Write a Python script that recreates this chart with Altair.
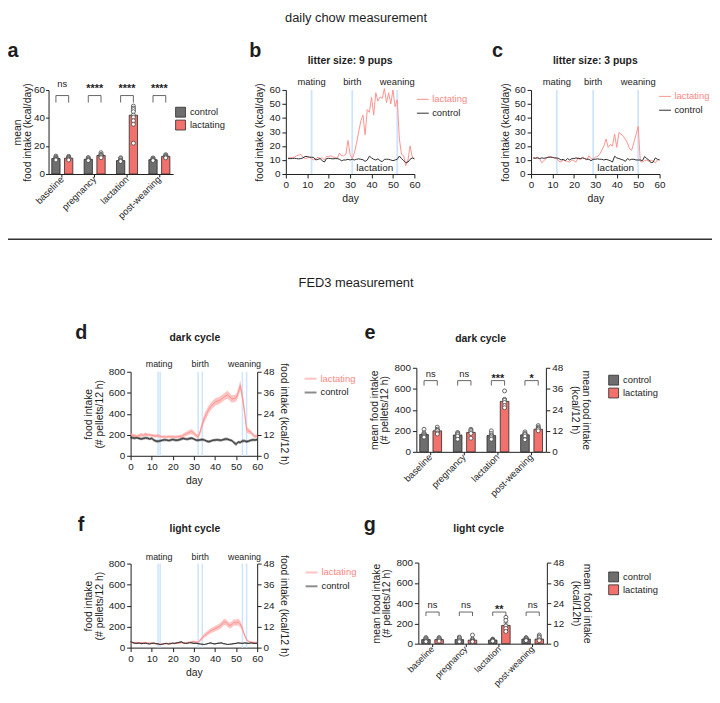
import altair as alt
import pandas as pd

FONT = "Liberation Sans"
INK = "#1d1d1d"
CTRL_BAR = "#6e6e6e"
LACT_BAR = "#f3716c"
LACT_LINE = "#ff9390"
CTRL_LINE = "#303030"
LACT_LABEL = "#ff8683"
EVENT_BLUE = "#cde4fb"
BAR_EDGE = "#2a2a2a"

W, H = 712, 684

phases = ["baseline", "pregnancy", "lactation", "post-weaning"]
bar_groups = ["control", "lactating"]
line_groups = ["lactating", "control"]
event_names = ["mating", "birth", "weaning"]

# ---------------- panel a (daily chow, mean per phase) ----------------
a_ctrl_mean = [11.0, 10.5, 9.6, 10.2]
a_lact_mean = [11.3, 13.2, 42.0, 12.6]
a_ctrl_sem = [0.5, 0.4, 0.4, 0.4]
a_lact_sem = [0.5, 0.6, 2.8, 0.5]
a_ctrl_pts = [[12.8, 12.0, 11.4, 11.0, 10.5, 10.0], [11.8, 11.0, 10.6, 10.0, 9.6],
              [11.6, 11.0, 10.0, 9.5, 9.0], [11.5, 11.0, 10.4, 10.0, 9.6]]
a_lact_pts = [[12.6, 12.0, 11.5, 11.0, 10.5, 10.0], [15.2, 14.0, 13.5, 13.0, 12.2, 11.6],
              [48.5, 47.0, 46.0, 44.5, 42.0, 40.5, 38.0, 35.5, 22.0], [13.8, 13.2, 12.6, 12.0, 11.5]]
a_sig = ["ns", "****", "****", "****"]

# ---------------- panels b, c (daily chow, per day) ----------------
daily_days = list(range(1, 61))
b_lact = [11.5, 11.5, 11.8, 12, 13, 13.5, 14, 12, 11, 11.5, 12, 11, 10, 11, 12, 11, 11.5, 10, 12.5, 12.5,
          13, 12, 12, 11, 15, 13, 13, 14, 24, 14, 11, 15, 22, 30, 38, 42, 28, 46, 44, 55,
          42, 58, 52, 55, 54, 61, 51, 58, 50, 60, 48, 53, 25, 14, 13, 6, 10, 20, 12, 11]
b_ctrl = [11, 11, 11, 11.2, 11, 10.8, 11, 11.5, 12.5, 12.5, 12, 12, 11.8, 10, 10.5, 11, 9.5, 8.5, 11, 11.2,
          11, 10.8, 11, 11, 10.5, 9.5, 10, 10, 10.5, 10, 10.5, 10, 10.5, 10.8, 10.5, 10.2, 9, 10, 12.7, 11.5,
          10.5, 10, 10.8, 9.5, 8.8, 10.5, 10.5, 10.5, 10, 9.5, 10, 10.5, 12.8, 11, 9.5, 8.2, 8.5, 10.5, 11.5, 10.8]
b_events = [12, 31, 52]
c_lact = [11.5, 11.5, 12, 11, 8, 9.5, 11, 12, 12.5, 12, 11.5, 11, 9, 8.5, 10, 9.5, 9, 8.5, 10, 9.5,
          8.5, 12, 10, 12, 11, 10, 13, 11, 10.5, 12, 12.5, 14, 17, 20, 25, 19, 21, 20, 28.5, 19,
          29.5, 28.5, 27, 25, 22, 18, 17, 22.5, 28, 34, 9, 8.5, 9.5, 10, 9, 10, 9, 8, 10, 10.5]
c_ctrl = [11.5, 11.2, 11.5, 11, 11.5, 11.2, 11.5, 12, 12, 11.8, 11.5, 11.5, 11, 10, 10.5, 9.5, 11, 10, 11, 11,
          11.5, 11, 11, 11.5, 11, 10.5, 10.5, 9.5, 10.5, 10.5, 10.8, 10.5, 10.5, 10, 10.5, 10, 9.5, 8.5, 12.7, 11.5,
          11, 10.5, 10, 9, 11, 10, 10.5, 10.5, 10, 10, 10, 9.5, 12.5, 11, 10, 8, 8.5, 11.5, 10.5, 10]
c_events = [12, 29, 50]

# ---------------- panels d, f (FED3, per day, mean +/- SEM) ----------------
fed_days = list(range(0, 61))
fed_event_days = [13, 14, 32, 34, 53, 55]
fed_label_days = [13.5, 33, 54]
d_lact_mean = [205, 195, 190, 185, 192, 200, 195, 205, 200, 198, 195, 190, 188, 192, 185, 180, 182, 178, 183, 180,
               182, 178, 180, 182, 185, 195, 205, 215, 225, 230, 215, 195, 180, 230, 300, 360, 400, 440, 470, 490,
               510, 520, 525, 540, 555, 570, 580, 560, 540, 545, 550, 600, 670, 560, 420, 250, 235, 225, 200, 185, 190]
d_lact_sem = [18, 16, 15, 15, 16, 17, 15, 16, 15, 14, 15, 15, 14, 15, 14, 13, 14, 14, 15, 14,
              15, 14, 15, 15, 16, 18, 20, 22, 22, 24, 20, 18, 20, 28, 35, 40, 40, 38, 36, 35,
              35, 34, 34, 33, 33, 35, 38, 36, 35, 34, 35, 40, 48, 50, 45, 30, 25, 20, 18, 16, 16]
d_ctrl_mean = [175, 170, 168, 172, 165, 160, 165, 170, 168, 160, 165, 150, 140, 138, 142, 148, 152, 150, 145, 150,
               155, 150, 148, 152, 160, 165, 160, 158, 165, 168, 160, 150, 148, 152, 155, 150, 140, 135, 140, 148,
               150, 152, 150, 148, 155, 160, 158, 150, 145, 125, 110, 130, 128, 140, 142, 135, 140, 148, 152, 150, 155]
d_ctrl_sem = [14, 13, 13, 12, 13, 13, 12, 13, 13, 12, 13, 14, 13, 12, 13, 12, 13, 12, 12, 13,
              12, 13, 12, 13, 14, 13, 12, 13, 14, 13, 12, 13, 12, 13, 13, 12, 13, 14, 13, 12,
              13, 12, 13, 12, 13, 14, 13, 12, 13, 15, 16, 14, 13, 14, 13, 12, 13, 12, 13, 12, 13]
f_lact_mean = [50, 48, 45, 50, 42, 48, 45, 50, 45, 42, 45, 40, 38, 35, 32, 35, 38, 36, 40, 42,
               38, 40, 45, 42, 48, 45, 42, 48, 50, 55, 58, 52, 50, 70, 95, 115, 130, 145, 160, 170,
               180, 190, 200, 215, 240, 245, 225, 210, 220, 240, 235, 245, 225, 180, 120, 75, 58, 52, 50, 48, 50]
f_lact_sem = [8, 8, 7, 8, 7, 7, 8, 7, 7, 7, 7, 7, 6, 6, 6, 6, 7, 6, 7, 7,
              6, 7, 7, 7, 8, 7, 7, 8, 9, 10, 10, 9, 10, 14, 18, 20, 22, 22, 24, 25,
              25, 26, 27, 28, 30, 30, 28, 27, 28, 30, 30, 32, 30, 25, 18, 12, 9, 8, 8, 8, 8]
f_ctrl_mean = [55, 48, 42, 40, 45, 38, 40, 42, 38, 35, 40, 42, 38, 35, 30, 32, 38, 40, 35, 38,
               42, 40, 45, 50, 55, 45, 40, 42, 48, 45, 40, 42, 38, 35, 32, 30, 35, 40, 45, 38,
               35, 40, 42, 45, 38, 35, 30, 32, 35, 38, 40, 45, 42, 40, 45, 42, 40, 45, 42, 40, 42]
f_ctrl_sem = [8, 7, 6, 6, 6, 5, 6, 6, 5, 5, 6, 6, 5, 5, 5, 5, 5, 6, 5, 5,
              6, 6, 6, 7, 7, 6, 6, 6, 6, 6, 6, 6, 5, 5, 5, 5, 5, 6, 6, 5,
              5, 6, 6, 6, 5, 5, 5, 5, 5, 6, 6, 6, 6, 6, 6, 6, 6, 6, 6, 6, 6]
kcal_ticks = [0, 12, 24, 36, 48]
pellet_ticks = [0, 200, 400, 600, 800]

# ---------------- panels e, g (FED3, mean per phase) ----------------
e_ctrl_mean = [165, 160, 155, 162]
e_lact_mean = [200, 185, 480, 215]
e_ctrl_sem = [12, 12, 14, 12]
e_lact_sem = [10, 12, 25, 10]
e_ctrl_pts = [[215, 180, 170, 160, 150, 140], [185, 175, 165, 150, 120], [200, 175, 160, 150, 135, 120],
              [190, 175, 165, 150, 115]]
e_lact_pts = [[235, 215, 205, 200, 180, 170], [215, 205, 190, 175, 130], [580, 500, 490, 470, 440, 420],
              [250, 235, 225, 215, 200]]
e_sig = ["ns", "ns", "***", "*"]
g_ctrl_mean = [40, 40, 35, 45]
g_lact_mean = [40, 35, 180, 45]
g_ctrl_sem = [6, 6, 5, 6]
g_lact_sem = [6, 8, 25, 8]
g_ctrl_pts = [[60, 55, 45, 35, 25, 20], [65, 55, 40, 30, 20], [45, 40, 35, 30, 25], [60, 55, 50, 40, 35, 30]]
g_lact_pts = [[60, 55, 45, 35, 25], [85, 45, 35, 25, 20], [260, 230, 175, 150, 120], [85, 70, 60, 40, 30]]
g_sig = ["ns", "ns", "**", "ns"]


def label_color_expr():
    return {"expr": f"datum.label === 'lactating' ? '{LACT_LABEL}' : '{INK}'"}


def line_legend(x, y, stroke_w, row_pad):
    return alt.Legend(title=None, orient="none", legendX=x, legendY=y, symbolType="stroke",
                      symbolSize=144, symbolStrokeWidth=stroke_w, labelFont=FONT, labelFontSize=9.5,
                      labelColor=label_color_expr(), rowPadding=row_pad, labelOffset=3)


def kcal_layer(yr, x1, title, pad):
    return alt.Chart(pd.DataFrame({"kcal": kcal_ticks})).mark_point(opacity=0).encode(
        y=alt.Y("kcal:Q", scale=alt.Scale(domain=[0, 48], nice=False, range=yr),
                axis=alt.Axis(orient="right", offset=x1 - W, values=kcal_ticks, title=title,
                              titleLineHeight=11, titlePadding=pad)))


def bar_panel(cm, lm, cs, ls, cp, lp, sig, ymax, yticks, ytitle, xr, yr,
              br_top, br_leg, txt_y, leg_x, leg_y, kcal_title=None, title_pad=4,
              y_tick=4, y_lpad=2, x_font=9.5, title_lh=11):
    bars = pd.DataFrame({"phase": phases + phases,
                         "group": ["control"] * 4 + ["lactating"] * 4,
                         "mean": cm + lm, "sem": cs + ls})
    bars["lo"] = bars["mean"] - bars["sem"]
    bars["hi"] = bars["mean"] + bars["sem"]
    pts = pd.DataFrame([{"phase": p, "group": g, "value": v}
                        for g, plist in (("control", cp), ("lactating", lp))
                        for p, vals in zip(phases, plist) for v in vals])
    br = pd.DataFrame([{"phase": p, "group": g, "y": yv, "k": k}
                       for p in phases
                       for k, (g, yv) in enumerate([("control", br_leg), ("control", br_top),
                                                    ("lactating", br_top), ("lactating", br_leg)])])
    sigdf = pd.DataFrame({"phase": phases, "label": sig, "y": [txt_y] * 4})
    ns_df = sigdf[sigdf["label"] == "ns"]
    st_df = sigdf[sigdf["label"] != "ns"]

    xaxis = alt.Axis(title=None, orient="bottom", offset=yr[0] - H, labelAngle=-45, labelAlign="right",
                     labelBaseline="middle", labelPadding=0.5, tickSize=3, labelFontSize=x_font)
    xscale = alt.Scale(paddingInner=0.35, paddingOuter=0.1, range=xr)

    def X():
        return alt.X("phase:N", sort=phases, scale=xscale, axis=xaxis)

    def XO():
        return alt.XOffset("group:N", sort=bar_groups, scale=alt.Scale(paddingInner=0.35, paddingOuter=0))

    yscale = alt.Scale(domain=[0, ymax], nice=False, range=yr)
    yaxis = alt.Axis(orient="left", offset=-xr[0], values=yticks, title=ytitle, titleLineHeight=title_lh,
                     titlePadding=title_pad, tickSize=y_tick, labelPadding=y_lpad)

    def Y(f):
        return alt.Y(f, type="quantitative", scale=yscale, axis=yaxis)

    legend = alt.Legend(title=None, orient="none", legendX=leg_x, legendY=leg_y,
                        symbolType="square", symbolSize=100, symbolStrokeColor=BAR_EDGE,
                        symbolStrokeWidth=0.8, symbolOpacity=1, labelFont=FONT,
                        labelFontSize=9.5, labelColor=INK, rowPadding=-4, labelOffset=4)
    bar = alt.Chart(bars).mark_bar(stroke=BAR_EDGE, strokeWidth=0.8).encode(
        x=X(), xOffset=XO(), y=Y("mean"),
        color=alt.Color("group:N", scale=alt.Scale(domain=bar_groups, range=[CTRL_BAR, LACT_BAR]),
                        legend=legend))
    err = alt.Chart(bars).mark_rule(color=INK, strokeWidth=0.8).encode(
        x=X(), xOffset=XO(), y=Y("lo"), y2="hi")
    cap = alt.Chart(bars).mark_tick(color=INK, thickness=0.8, size=5).encode(
        x=X(), xOffset=XO(), y=Y("hi"))
    dots = alt.Chart(pts).mark_circle(fill="white", stroke="#444444", strokeWidth=0.8, size=16, opacity=1).encode(
        x=X(), xOffset=XO(), y=Y("value"))
    brk = alt.Chart(br).mark_line(color="#555555", strokeWidth=0.9).encode(
        x=X(), xOffset=XO(), y=Y("y"), detail="phase:N", order="k:Q")
    layers = [bar, err, cap, dots, brk]
    if len(ns_df):
        layers.append(alt.Chart(ns_df).mark_text(font=FONT, fontSize=9.5, baseline="bottom", color=INK).encode(
            x=X(), y=Y("y"), text="label:N"))
    if len(st_df):
        layers.append(alt.Chart(st_df).mark_text(font=FONT, fontSize=11, fontWeight="bold", baseline="bottom",
                                                 color=INK, dy=5).encode(x=X(), y=Y("y"), text="label:N"))
    inner = alt.layer(*layers)
    if kcal_title is None:
        return inner
    return alt.layer(inner, kcal_layer(yr, xr[1], kcal_title, 7)).resolve_scale(y="independent")


def daily_panel(lact, ctrl, ev_days, xr, yr, leg_x, leg_y):
    df = pd.DataFrame({"day": daily_days + daily_days, "kcal": lact + ctrl,
                       "group": ["lactating"] * len(lact) + ["control"] * len(ctrl)})
    ev = pd.DataFrame({"day": ev_days, "name": event_names, "lo": 0, "hi": 60})
    mid = pd.DataFrame({"day": [(ev_days[1] + ev_days[2]) / 2], "y": [4.2], "t": ["lactation"]})
    xs = alt.Scale(domain=[0, 60], nice=False, range=xr)
    xa = alt.Axis(orient="bottom", offset=yr[0] - H, values=list(range(0, 61, 10)), title="day")
    ys = alt.Scale(domain=[0, 60], nice=False, range=yr)
    ya = alt.Axis(orient="left", offset=-xr[0], values=list(range(0, 61, 10)), title="food intake (kcal/day)")

    def X(f):
        return alt.X(f, type="quantitative", scale=xs, axis=xa)

    def Y(f):
        return alt.Y(f, type="quantitative", scale=ys, axis=ya)

    rules = alt.Chart(ev).mark_rule(color=EVENT_BLUE, strokeWidth=1.8).encode(x=X("day"), y=Y("lo"), y2="hi")
    names = alt.Chart(ev).mark_text(font=FONT, fontSize=9.5, baseline="middle", color=INK, dy=-8).encode(
        x=X("day"), y=Y("hi"), text="name:N")
    lines = alt.Chart(df).mark_line(strokeWidth=1).encode(
        x=X("day"), y=Y("kcal"),
        color=alt.Color("group:N", scale=alt.Scale(domain=line_groups, range=[LACT_LINE, CTRL_LINE]),
                        legend=line_legend(leg_x, leg_y, 1, 3)))
    lab = alt.Chart(mid).mark_text(font=FONT, fontSize=10, color=INK, baseline="middle").encode(
        x=X("day"), y=Y("y"), text="t:N")
    return alt.layer(rules, lines, names, lab)


def fed_panel(lm, ls, cm, cs, ytitle, kcal_title, xr, yr, label_dy, leg_x, leg_y):
    n = len(fed_days)
    df = pd.DataFrame({"day": fed_days + fed_days, "mean": lm + cm, "sem": ls + cs,
                       "group": ["lactating"] * n + ["control"] * n})
    df["lo"] = df["mean"] - df["sem"]
    df["hi"] = df["mean"] + df["sem"]
    ev = pd.DataFrame({"day": fed_event_days, "lo": 0, "hi": 800})
    evl = pd.DataFrame({"day": fed_label_days, "name": event_names, "top": 800})
    xs = alt.Scale(domain=[0, 60], nice=False, range=xr)
    xa = alt.Axis(orient="bottom", offset=yr[0] - H, values=list(range(0, 61, 10)), title="day")
    ys = alt.Scale(domain=[0, 800], nice=False, range=yr)
    ya = alt.Axis(orient="left", offset=-xr[0], values=pellet_ticks, title=ytitle, titleLineHeight=11)

    def X(f):
        return alt.X(f, type="quantitative", scale=xs, axis=xa)

    def Y(f):
        return alt.Y(f, type="quantitative", scale=ys, axis=ya)

    cscale = alt.Scale(domain=line_groups, range=[LACT_LINE, CTRL_LINE])
    legend = line_legend(leg_x, leg_y, 2, 2)
    rules = alt.Chart(ev).mark_rule(color=EVENT_BLUE, strokeWidth=1.5).encode(x=X("day"), y=Y("lo"), y2="hi")
    band = alt.Chart(df).mark_area(opacity=0.55).encode(
        x=X("day"), y=Y("lo"), y2="hi", color=alt.Color("group:N", scale=cscale, legend=legend))
    line = alt.Chart(df).mark_line(strokeWidth=1).encode(
        x=X("day"), y=Y("mean"), color=alt.Color("group:N", scale=cscale, legend=legend))
    names = alt.Chart(evl).mark_text(font=FONT, fontSize=9, baseline="middle", color=INK, dy=label_dy).encode(
        x=X("day"), y=Y("top"), text="name:N")
    inner = alt.layer(rules, band, line, names)
    return alt.layer(inner, kcal_layer(yr, xr[1], kcal_title, 4)).resolve_scale(y="independent")


def label(txt, x, y, size, weight="normal", color=INK, align="center", baseline="middle"):
    return alt.Chart(pd.DataFrame({"t": [txt]})).mark_text(
        font=FONT, fontSize=size, fontWeight=weight, color=color, align=align, baseline=baseline).encode(
        text="t:N", x=alt.value(x), y=alt.value(y))


# ---------------- panels ----------------
pa = bar_panel(a_ctrl_mean, a_lact_mean, a_ctrl_sem, a_lact_sem, a_ctrl_pts, a_lact_pts, a_sig,
               60, [0, 20, 40, 60], ["mean", "food intake (kcal/day)"], [41, 167], [164, 79],
               56, 51, 60.5, 169, 96, title_pad=1, y_tick=3, y_lpad=1, title_lh=10)
pb = daily_panel(b_lact, b_ctrl, b_events, [281, 411], [164, 79], 413, 82)
pc = daily_panel(c_lact, c_ctrl, c_events, [529, 659], [164, 79], 658, 79)
pd_ = fed_panel(d_lact_mean, d_lact_sem, d_ctrl_mean, d_ctrl_sem, ["food intake", "(# pellets/12 h)"],
                "food intake (kcal/12 h)", [124, 252], [449, 364], -8, 299, 364)
pe = bar_panel(e_ctrl_mean, e_lact_mean, e_ctrl_sem, e_lact_sem, e_ctrl_pts, e_lact_pts, e_sig,
               800, pellet_ticks, ["mean food intake", "(# pellets/12 h)"], [413, 544], [445, 360],
               678, 631, 690, 607, 367, kcal_title=["mean food intake", "(kcal/12 h)"])
pf = fed_panel(f_lact_mean, f_lact_sem, f_ctrl_mean, f_ctrl_sem, ["food intake", "(# pellets/12 h)"],
               "food intake (kcal/12 h)", [124, 252], [643, 558], -7, 300, 560)
pg = bar_panel(g_ctrl_mean, g_lact_mean, g_ctrl_sem, g_lact_sem, g_ctrl_pts, g_lact_pts, g_sig,
               800, pellet_ticks, ["mean food intake", "(# pellets/12 h)"], [415, 545], [639, 557],
               312, 273, 336, 607, 566, kcal_title=["mean food intake", "(kcal/12h)"], x_font=9)

divider = alt.Chart(pd.DataFrame({"v": [0]})).mark_rule(color="#333333", strokeWidth=1.5).encode(
    x=alt.value(0), x2=alt.value(W), y=alt.value(230))

texts = [
    label("daily chow measurement", 352, 0.5, 13, baseline="top"),
    label("a", 5, 40, 20, "bold"),
    label("b", 250, 40, 20, "bold"),
    label("c", 495, 40, 20, "bold"),
    label("litter size: 9 pups", 346, 50, 10.5, "bold"),
    label("litter size: 3 pups", 594, 50, 10.5, "bold"),
    label("FED3 measurement", 352, 274, 13),
    label("d", 74, 325, 20, "bold"),
    label("e", 366, 325, 20, "bold"),
    label("dark cycle", 189, 330, 10.5, "bold"),
    label("dark cycle", 478, 331, 10.5, "bold"),
    label("f", 74, 519, 20, "bold"),
    label("g", 366, 519, 20, "bold"),
    label("light cycle", 189, 523, 10.5, "bold"),
    label("light cycle", 476, 523, 10.5, "bold"),
]

chart = alt.layer(pa, pb, pc, pd_, pe, pf, pg, divider, *texts).resolve_scale(
    x="independent", y="independent", color="independent", xOffset="independent"
).properties(
    width=W, height=H, padding=0, background="white",
    autosize=alt.AutoSizeParams(type="none")
).configure_view(stroke=None).configure_axis(
    labelFont=FONT, titleFont=FONT, labelFontSize=10, titleFontSize=10.5, titleFontWeight="normal",
    labelColor=INK, titleColor=INK, domainColor=INK, tickColor=INK, grid=False, tickSize=4,
    labelFlush=False, labelOverlap=False, domainWidth=1, tickWidth=1, labelPadding=2, titlePadding=4
).configure_text(font=FONT)

chart.save("out.html", embed_options={"renderer": "svg", "actions": False})
